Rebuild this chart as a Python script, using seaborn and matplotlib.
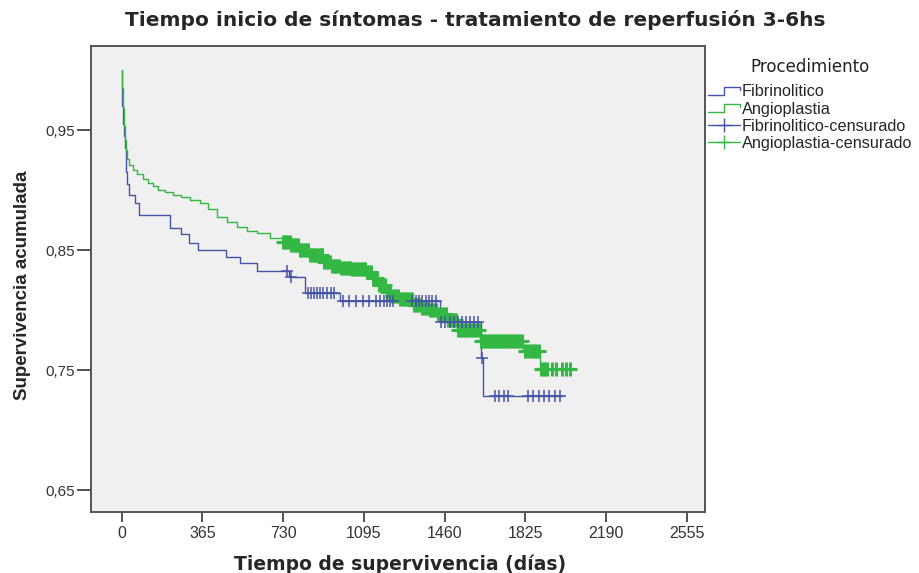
import numpy as np
import pandas as pd
import matplotlib
matplotlib.use("Agg")
import matplotlib.pyplot as plt
import seaborn as sns
from matplotlib.lines import Line2D
from matplotlib.legend_handler import HandlerLine2D

# ---------------- data ----------------
title = "Tiempo inicio de síntomas - tratamiento de reperfusión 3-6hs"
xlabel = "Tiempo de supervivencia (días)"
ylabel = "Supervivencia acumulada"
legend_title = "Procedimiento"
legend_labels = ["Fibrinolitico", "Angioplastia",
                 "Fibrinolitico-censurado", "Angioplastia-censurado"]

x_ticks = [0, 365, 730, 1095, 1460, 1825, 2190, 2555]
y_ticks = [0.65, 0.75, 0.85, 0.95]
y_ticklabels = ["0,65", "0,75", "0,85", "0,95"]

# Fibrinolitico: event times (days) and survival after each event
fib_days = [0, 1, 3, 6, 10, 15, 20, 22, 26, 32, 59, 77, 217, 267, 303, 344,
            470, 534, 611, 757, 828, 986, 1438, 1623, 1632]
fib_surv = [1.0, 0.985, 0.97, 0.955, 0.945, 0.935, 0.925, 0.915, 0.905, 0.896,
            0.889, 0.879, 0.868, 0.863, 0.856, 0.850, 0.844, 0.839, 0.8325,
            0.8275, 0.814, 0.8075, 0.790, 0.760, 0.728]
fib_end = 1993
fib_cens = [746, 765, 841, 855, 868, 882, 895, 910, 927, 945, 960,
            1000, 1030, 1060, 1090, 1120, 1150, 1170, 1185, 1200, 1215, 1225,
            1315, 1330, 1345, 1360, 1375, 1390, 1405, 1420,
            1446, 1464, 1483, 1501, 1519, 1537, 1555, 1574, 1592, 1610,
            1627, 1687, 1706, 1727, 1747, 1838, 1860, 1888, 1908, 1932,
            1958, 1981]

# Angioplastia
ang_days = [0, 2, 5, 9, 14, 20, 25, 35, 50, 70, 95, 120, 140, 165, 195, 231,
            270, 308, 353, 390, 430, 475, 520, 565, 611, 670, 728, 765, 805,
            850, 909, 950, 986, 1040, 1105, 1131, 1160, 1190, 1221, 1260,
            1316, 1355, 1393, 1430, 1470, 1515, 1619, 1814, 1890]
ang_surv = [1.0, 0.985, 0.968, 0.953, 0.942, 0.933, 0.926, 0.921, 0.917,
            0.913, 0.909, 0.906, 0.903, 0.900, 0.898, 0.896, 0.894, 0.892,
            0.889, 0.884, 0.8775, 0.873, 0.869, 0.866, 0.864, 0.860, 0.857,
            0.854, 0.850, 0.846, 0.840, 0.837, 0.835, 0.834, 0.832, 0.827,
            0.821, 0.815, 0.812, 0.809, 0.804, 0.802, 0.800, 0.797, 0.792,
            0.783, 0.774, 0.766, 0.751]
ang_end = 2026
ang_cens = [730, 738, 745, 752, 760, 768, 775, 783, 790, 798, 806, 813, 821,
            829, 836, 844, 852, 860, 868, 876, 884, 892, 900, 908, 916, 925,
            933, 941, 950, 958, 966, 975, 983, 992, 1000, 1009, 1017, 1026,
            1034, 1043, 1051, 1060, 1068, 1077, 1085, 1094, 1102, 1111, 1120,
            1128, 1137, 1146, 1154, 1163, 1172, 1180, 1189, 1198, 1207, 1215,
            1224, 1233, 1242, 1251, 1260, 1268, 1277, 1286, 1295, 1304, 1313,
            1322, 1331, 1340, 1349, 1358, 1367, 1376, 1385, 1394, 1403, 1412,
            1421, 1430, 1440, 1449, 1458, 1467, 1476, 1485, 1495, 1504, 1513,
            1522, 1531, 1541, 1550, 1559, 1568, 1578, 1587, 1596, 1605, 1614,
            1624, 1633, 1642, 1651, 1661, 1670, 1679, 1689, 1698, 1707, 1716,
            1726, 1735, 1744, 1754, 1763, 1772, 1782, 1791, 1800, 1810, 1822,
            1833, 1845, 1856, 1866, 1875, 1886, 1895, 1905, 1915, 1925, 1945,
            1965, 1990, 2010, 2026]

# ---------------- styling ----------------
blue = "#4554a6"
green = "#33b844"

sns.set_style("white")
plt.rcParams["font.family"] = ["Liberation Sans", "DejaVu Sans"]


def km_frame(days, surv, end):
    d = list(days) + [end]
    s = list(surv) + [surv[-1]]
    return pd.DataFrame({"t": d, "s": s})


def cens_frame(days, surv, cens):
    idx = np.searchsorted(np.asarray(days), np.asarray(cens), side="right") - 1
    return pd.DataFrame({"t": cens, "s": np.asarray(surv)[idx]})


fig = plt.figure(figsize=(9.2, 5.73), dpi=100)
ax = fig.add_axes([91 / 920, 1 - 512 / 573, (705 - 91) / 920, (512 - 46) / 573])
ax.set_facecolor("#f0f0f0")

fib_df = km_frame(fib_days, fib_surv, fib_end)
ang_df = km_frame(ang_days, ang_surv, ang_end)
fib_c = cens_frame(fib_days, fib_surv, fib_cens)
ang_c = cens_frame(ang_days, ang_surv, ang_cens)

sns.lineplot(data=fib_df, x="t", y="s", ax=ax, color=blue, lw=1.0,
             drawstyle="steps-post", estimator=None, sort=False)
sns.lineplot(data=ang_df, x="t", y="s", ax=ax, color=green, lw=1.0,
             drawstyle="steps-post", estimator=None, sort=False)
sns.scatterplot(data=ang_c, x="t", y="s", ax=ax, color=green, marker="+",
                s=90, linewidth=2.2, zorder=3)
sns.scatterplot(data=fib_c, x="t", y="s", ax=ax, color=blue, marker="+",
                s=70, linewidth=1.1, zorder=4)

ax.set_xlim(-138, 2637)
ax.set_ylim(0.6317, 1.02)
ax.set_xticks(x_ticks)
ax.set_xticklabels([str(v) for v in x_ticks])
ax.set_yticks(y_ticks)
ax.set_yticklabels(y_ticklabels)
ax.tick_params(axis="x", direction="out", length=7, width=1.2,
               color="#333333", labelcolor="#333333", labelsize=11.5, pad=3,
               bottom=True)
ax.tick_params(axis="y", direction="out", length=10, width=1.2,
               color="#333333", labelcolor="#333333", labelsize=11, pad=1.5,
               left=True)
for sp in ax.spines.values():
    sp.set_color("#555555")
    sp.set_linewidth(1.4)

ax.set_xlabel(xlabel, fontsize=13.5, fontweight="bold",
              family=["DejaVu Sans"])
ax.xaxis.set_label_coords((400 - 91) / 614, (512 - 554) / 466)
ax.set_ylabel(ylabel, fontsize=13.5, fontweight="bold")
ax.yaxis.set_label_coords((31 - 91) / 614, (512 - 285) / 466)
fig.text(475 / 920, 1 - 20 / 573, title, ha="center", va="center",
         fontsize=14.5, fontweight="bold", family=["DejaVu Sans"])


class StepHandler(HandlerLine2D):
    def create_artists(self, legend, orig_handle, xdescent, ydescent,
                       width, height, fontsize, trans):
        x0 = -xdescent
        y_lo = -ydescent + 0.1 * height
        y_hi = -ydescent + 0.85 * height
        y_mid = -ydescent + 0.55 * height
        xs = [x0, x0 + 0.5 * width, x0 + 0.5 * width, x0 + width, x0 + width]
        ys = [y_lo, y_lo, y_hi, y_hi, y_mid]
        ln = Line2D(xs, ys, color=orig_handle.get_color(), lw=1.0)
        ln.set_transform(trans)
        return [ln]


h_fib = Line2D([], [], color=blue, lw=1.0)
h_ang = Line2D([], [], color=green, lw=1.0)
h_fibc = Line2D([], [], color=blue, lw=1.0, marker="+", markersize=10, mew=1.0)
h_angc = Line2D([], [], color=green, lw=1.0, marker="+", markersize=10, mew=1.0)

leg = fig.legend([h_fib, h_ang, h_fibc, h_angc], legend_labels,
                 title=legend_title, loc="upper left",
                 bbox_to_anchor=(708 / 920, 1 - 58 / 573),
                 bbox_transform=fig.transFigure, frameon=False,
                 prop={"family": ["Liberation Sans"], "size": 11.7},
                 title_fontproperties={"family": ["DejaVu Sans"], "size": 12},
                 handlelength=2.0, handletextpad=0.1, labelspacing=0.14,
                 borderpad=0, borderaxespad=0, numpoints=1,
                 handler_map={h_fib: StepHandler(), h_ang: StepHandler()})
leg.get_title().set_color("#222222")
leg._legend_box.sep = 6

fig.savefig("out.png", dpi=100)
